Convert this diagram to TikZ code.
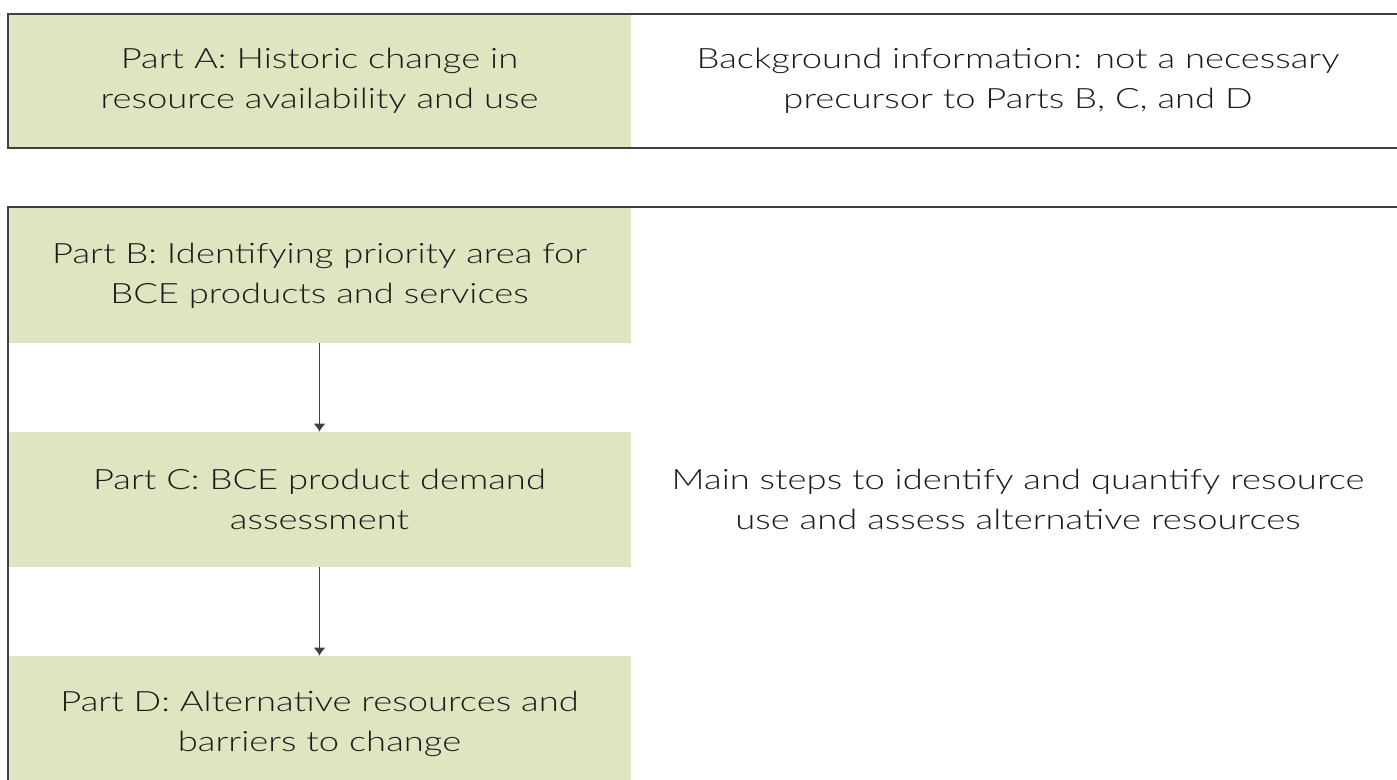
\documentclass[tikz,border=0pt]{standalone}
\usepackage{fontspec}
\setmainfont{Lato Light}[FakeStretch=1.3]
\usepackage{tikz}
\usetikzlibrary{arrows.meta}

\definecolor{partgreen}{RGB}{221,229,193}
\definecolor{framegray}{RGB}{64,64,64}
\definecolor{textgray}{RGB}{26,26,26}

\begin{document}
\begin{tikzpicture}[x=0.5pt, y=-0.5pt,
    part/.style={fill=partgreen, minimum width=311.5pt, minimum height=67.5pt,
        align=center, text=textgray, font=\fontsize{14}{20}\selectfont},
    note/.style={align=center, text=textgray, font=\fontsize{14}{20}\selectfont}]
    \useasboundingbox (0,0) rectangle (1397,780);

    % Part A and its note
    \node[part] (partA) at (319.5,81) {Part A: Historic change in\\resource availability and use};
    \node[note] (background) at (1018,81) {Background information: not a necessary\\precursor to Parts B, C, and D};

    % Main steps
    \node[part] (partB) at (319.5,275.5) {Part B: Identifying priority area for\\BCE products and services};
    \node[part] (partC) at (319.5,499.5) {Part C: BCE product demand\\assessment};
    \node[part] (partD) at (319.5,723.5) {Part D: Alternative resources and\\barriers to change};
    \node[note] (mainsteps) at (1018,499.5) {Main steps to identify and quantify resource\\use and assess alternative resources};

    % Frames
    \draw[framegray, line width=0.8pt] (8,14) rectangle (1420,148);
    \draw[framegray, line width=0.8pt] (8,207) rectangle (1420,820);

    % Arrows
    \draw[-{Latex[length=4pt,width=6pt]}, framegray, line width=0.6pt] (partB) -- (partC);
    \draw[-{Latex[length=4pt,width=6pt]}, framegray, line width=0.6pt] (partC) -- (partD);
\end{tikzpicture}
\end{document}
